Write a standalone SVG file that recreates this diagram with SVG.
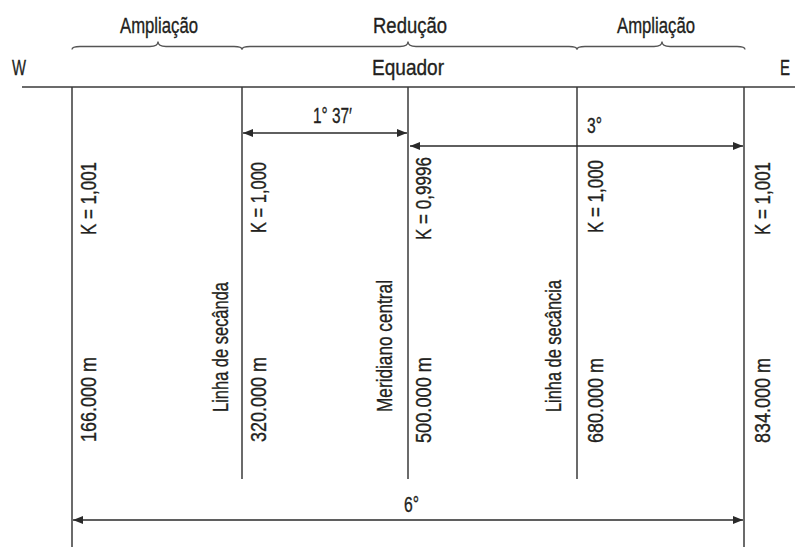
<svg xmlns="http://www.w3.org/2000/svg" width="795" height="547" viewBox="0 0 795 547">
<defs>
<style>
text{font-family:"Liberation Sans Narrow","Liberation Sans",sans-serif;font-size:22.5px;fill:#231f20;stroke:#231f20;stroke-width:0.35}
.ln{stroke:#3a3a3a;stroke-width:1.5;fill:none}
.br{stroke:#555;stroke-width:1.3;fill:none}
.ar{stroke:#2a2a2a;stroke-width:1.5;fill:none;marker-start:url(#ah);marker-end:url(#ah)}
</style>
<marker id="ah" viewBox="0 0 10 8" refX="10" refY="4" markerWidth="10" markerHeight="8" markerUnits="userSpaceOnUse" orient="auto-start-reverse">
<path d="M0,0 L10,4 L0,8 Z" fill="#2a2a2a"/>
</marker>
</defs>
<rect width="795" height="547" fill="#fff"/>

<g id="braces">
<path class="br" d="M72,49.5 Q72,46.5 80,46.5 L150,46.5 Q158,46.5 158,41.5 Q158,46.5 166,46.5 L234,46.5 Q242,46.5 242,49.5"/>
<path class="br" d="M242,49.5 Q242,46.5 250,46.5 L400,46.5 Q408,46.5 408,41.5 Q408,46.5 416,46.5 L569,46.5 Q577,46.5 577,49.5"/>
<path class="br" d="M577,49.5 Q577,46.5 585,46.5 L654,46.5 Q662,46.5 662,41.5 Q662,46.5 670,46.5 L737,46.5 Q745,46.5 745,49.5"/>
<text x="159" y="33" text-anchor="middle" textLength="78" lengthAdjust="spacingAndGlyphs">Ampliação</text>
<text x="410" y="33" text-anchor="middle" textLength="74" lengthAdjust="spacingAndGlyphs">Redução</text>
<text x="656" y="33" text-anchor="middle" textLength="78" lengthAdjust="spacingAndGlyphs">Ampliação</text>
</g>

<g id="equador">
<line class="ln" x1="22" y1="87" x2="795" y2="87"/>
<text x="12" y="75" textLength="14" lengthAdjust="spacingAndGlyphs">W</text>
<text x="408" y="75" text-anchor="middle" textLength="72" lengthAdjust="spacingAndGlyphs">Equador</text>
<text x="780" y="75" textLength="10" lengthAdjust="spacingAndGlyphs">E</text>
</g>

<g id="meridiano-166">
<line class="ln" x1="72" y1="87" x2="72" y2="547"/>
<text transform="translate(96,235) rotate(-90)" textLength="73" lengthAdjust="spacingAndGlyphs">K = 1,001</text>
<text transform="translate(96,442) rotate(-90)" textLength="85" lengthAdjust="spacingAndGlyphs">166.000 m</text>
</g>

<g id="secante-320">
<line class="ln" x1="242" y1="87" x2="242" y2="479"/>
<text transform="translate(228,412) rotate(-90)" textLength="130" lengthAdjust="spacingAndGlyphs">Linha de secânda</text>
<text transform="translate(266,233) rotate(-90)" textLength="71" lengthAdjust="spacingAndGlyphs">K = 1,000</text>
<text transform="translate(266,442) rotate(-90)" textLength="85" lengthAdjust="spacingAndGlyphs">320.000 m</text>
</g>

<g id="meridiano-central">
<line class="ln" x1="408" y1="87" x2="408" y2="479"/>
<text transform="translate(392,412) rotate(-90)" textLength="132" lengthAdjust="spacingAndGlyphs">Meridiano central</text>
<text transform="translate(431,240) rotate(-90)" textLength="83" lengthAdjust="spacingAndGlyphs">K = 0,9996</text>
<text transform="translate(431,443) rotate(-90)" textLength="86" lengthAdjust="spacingAndGlyphs">500.000 m</text>
</g>

<g id="secante-680">
<line class="ln" x1="577" y1="87" x2="577" y2="479"/>
<text transform="translate(561,412) rotate(-90)" textLength="132" lengthAdjust="spacingAndGlyphs">Linha de secância</text>
<text transform="translate(603,233) rotate(-90)" textLength="73" lengthAdjust="spacingAndGlyphs">K = 1,000</text>
<text transform="translate(603,443) rotate(-90)" textLength="85" lengthAdjust="spacingAndGlyphs">680.000 m</text>
</g>

<g id="meridiano-834">
<line class="ln" x1="744" y1="87" x2="744" y2="547"/>
<text transform="translate(770,235) rotate(-90)" textLength="73" lengthAdjust="spacingAndGlyphs">K = 1,001</text>
<text transform="translate(770,443) rotate(-90)" textLength="85" lengthAdjust="spacingAndGlyphs">834.000 m</text>
</g>

<g id="connectors">
<line class="ar" x1="243" y1="133" x2="407" y2="133"/>
<line class="ar" x1="410" y1="146" x2="743" y2="146"/>
<line class="ar" x1="73" y1="520" x2="743" y2="520"/>
<text x="313" y="123" textLength="39" lengthAdjust="spacingAndGlyphs">1° 37′</text>
<text x="587" y="133" textLength="15" lengthAdjust="spacingAndGlyphs">3°</text>
<text x="404" y="512" textLength="15" lengthAdjust="spacingAndGlyphs">6°</text>
</g>
</svg>
